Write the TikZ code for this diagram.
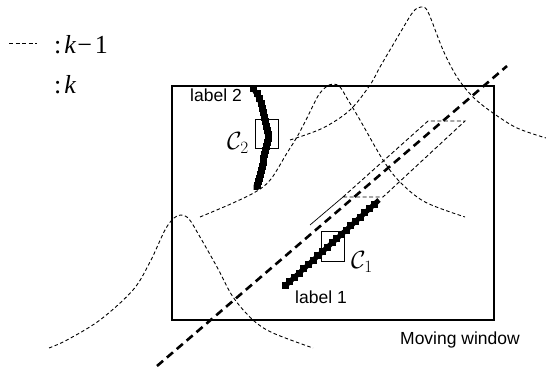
\documentclass[tikz,border=0pt]{standalone}
\usepackage{fontspec}
\usetikzlibrary{calc}
\newfontfamily\sansf{Liberation Sans}
\newfontfamily\seriff{Liberation Serif}
\begin{document}
\begin{tikzpicture}[x=1pt,y=-1pt,
  gauss/.style={dash pattern=on 3.5pt off 2.5pt, line width=0.9pt},
  thickdash/.style={dash pattern=on 8pt off 5pt, line width=2.6pt},
  thindash/.style={dash pattern=on 4pt off 2.5pt, line width=0.9pt},
  win/.style={line width=1.4pt},
  lbl/.style={font=\sansf\fontsize{17.5}{19}\selectfont, inner sep=0pt},
  legendtext/.style={font=\seriff\fontsize{26}{30}\selectfont, inner sep=0pt},
  clabel/.style={inner sep=0pt, font=\fontsize{23}{25}\selectfont},
  chainsq/.style={fill=black, minimum size=7pt, inner sep=0pt},
  cbox/.style={draw, line width=0.9pt}
]
\useasboundingbox (0,0) rectangle (546,371);

% legend
\coordinate (d1) at (9,43);
\coordinate (d2) at (37,43);
\draw[thindash] (d1) -- (d2);
\node[legendtext, anchor=base west] (lg1) at (54,54) {:\hspace{3pt}\textit{k}\hspace{1pt}−\hspace{3pt}1};
\node[legendtext, anchor=base west] (lg2) at (54,94) {:\hspace{3pt}\textit{k}};

% moving window
\node[draw, win, minimum width=322pt, minimum height=234pt, inner sep=0pt] (window) at (333,203) {};
\node[lbl, anchor=base] (mw) at (460,344) {Moving window};

% gaussians
\draw[gauss] plot[smooth, tension=0.55] coordinates {
 (49,348) (67,340) (100,320) (133,290) (150,262) (165,230) (174,218) (181,215) (189,219) (200,237)
 (217,267) (233,297) (253,320) (273,333) (313,348)};
\draw[gauss] plot[smooth, tension=0.55] coordinates {
 (200,217) (233,203) (257,191) (271,179) (287,153) (297,137) (307,118) (318,96) (326,87) (333,84) (340,87)
 (348,100) (360,120) (383,160) (400,182) (425,202) (465,217)};
\draw[gauss] plot[smooth, tension=0.55] coordinates {
 (290,140) (323,128) (350,110) (370,85) (380,67) (400,33) (413,12) (421,7) (428,12) (443,50) (457,77)
 (473,97) (493,113) (517,128) (546,138)};

% main thick dashed line
\coordinate (m1) at (157,366);
\coordinate (m2) at (507,66);
\draw[thickdash] (m1) -- (m2);

% parallelogram
\coordinate (p1) at (343,197);
\coordinate (p2) at (383,197);
\coordinate (p3) at (465,121);
\coordinate (p4) at (428,121);
\coordinate (p0) at (310,225);
\draw[thindash] (p1) -- (p2) -- (p3) -- (p4) -- (p1);
\draw[line width=0.7pt] (p0) -- (p1);

% chain 1 (label 1)
\coordinate (a1) at (285,286);
\coordinate (a2) at (379,200);
\draw[line width=5pt] (a1) -- (a2);
\foreach \t in {0,0.05,...,1.0}{
  \node[chainsq] at ($(a1)!\t!(a2)$) {};
}
\node[lbl, anchor=base] (lab1) at (321,304) {label 1};

% chain 2 (label 2)
\draw[line width=5pt, line join=miter] (253,88) -- (258,96) -- (261,104) -- (263,113) -- (265,122)
 -- (267,131) -- (268,139) -- (266,147) -- (264,155) -- (263,163) -- (261,171) -- (259,179) -- (256,186) -- (256,190);
\foreach \p in {(253,89),(257,94),(259,99),(261,104),(262,109),(263,113),(264,118),(265,122),(266,127),(267,131),(268,135),(268,139),(267,143),(266,147),(265,151),(264,155),(263,159),(263,163),(262,167),(261,171),(260,175),(259,179),(258,182),(257,186)}{
  \node[chainsq] at \p {};
}
\node[lbl, anchor=base] (lab2) at (216,102) {label 2};

% c boxes
\node[cbox, minimum width=23pt, minimum height=29pt, inner sep=0pt] (c2box) at (266.5,134) {};
\node[clabel] (c2) at (238,143) {$\mathcal{C}_2$};
\node[cbox, minimum width=23pt, minimum height=30pt, inner sep=0pt] (c1box) at (332.5,246) {};
\node[clabel] (c1) at (362,262) {$\mathcal{C}_1$};
\end{tikzpicture}
\end{document}
